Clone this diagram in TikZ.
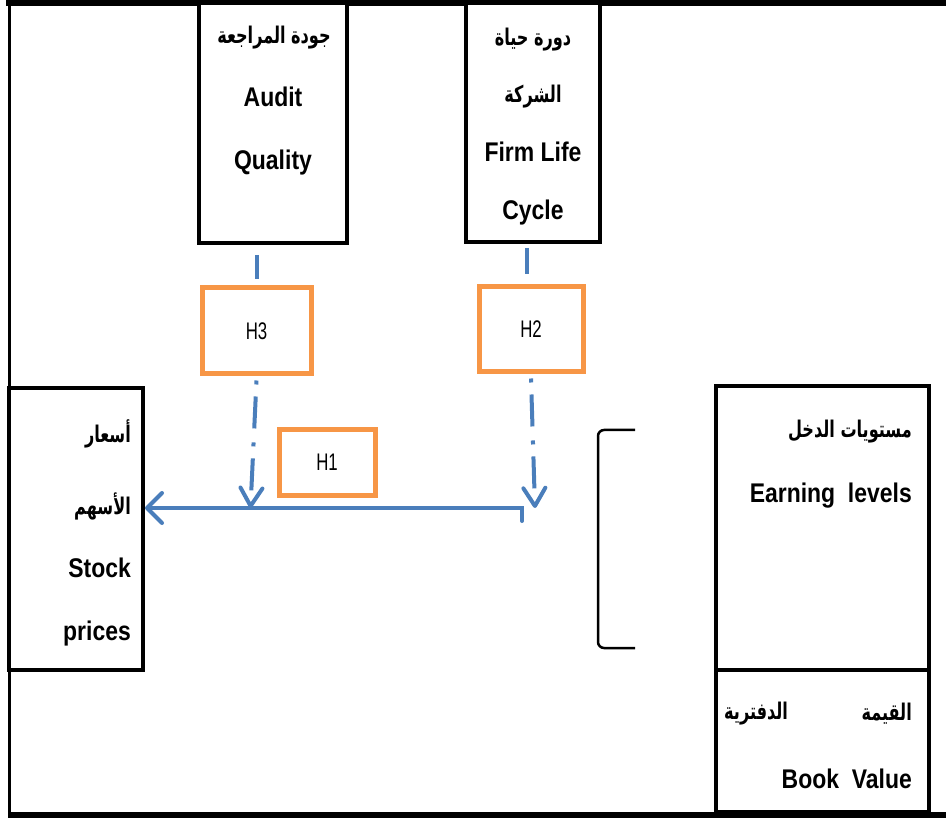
\documentclass[tikz,border=0pt]{standalone}
\usepackage{fontspec}
\usetikzlibrary{arrows.meta}
\TeXXeTstate=1
\newfontfamily\arabicfont[Script=Arabic,FakeStretch=0.7]{DejaVu Sans}
\newfontfamily\latinfont[FakeStretch=0.85]{Liberation Sans}
\newfontfamily\hfont[FakeStretch=0.7]{Liberation Sans}
\definecolor{hblue}{RGB}{74,126,187}
\definecolor{horange}{RGB}{247,150,70}
\tikzset{
  blackbox/.style={draw=black, line width=4pt, inner sep=0pt, fill=white},
  hbox/.style={draw=horange, line width=5pt, inner sep=0pt, fill=white,
    font=\hfont\fontsize{24}{24}\selectfont},
  entxt/.style={font=\latinfont\bfseries\fontsize{27}{27}\selectfont, inner sep=0pt, anchor=base},
  artxt/.style={font=\arabicfont\bfseries\fontsize{23}{23}\selectfont, inner sep=0pt},
  link/.style={draw=hblue, line width=4pt},
  dlink/.style={link, dash pattern=on 4pt off 12pt on 32pt off 14pt,
    -{Straight Barb[length=18pt,width=22pt,round]}},
  mainlink/.style={link, line cap=round, -{Straight Barb[length=15pt,width=30pt,round]}},
}
\begin{document}
\begin{tikzpicture}[x=1pt,y=-1pt]
\useasboundingbox (0,0) rectangle (946,818);
% outer frame
\draw[line width=6pt] (6,3) -- (946,3);
\draw[line width=3pt] (9,0) -- (9,815);
\draw[line width=6pt] (8,815) -- (946,815);

% black boxes
\node[blackbox, minimum width=148pt, minimum height=240pt] (aq) at (273,123) {};
\node[blackbox, minimum width=134pt, minimum height=239pt] (fl) at (533,122.5) {};
\node[blackbox, minimum width=134pt, minimum height=282pt] (sp) at (76,529) {};
\node[blackbox, minimum width=213pt, minimum height=284pt] (el) at (822.5,528) {};
\node[blackbox, minimum width=213pt, minimum height=142pt] (bv) at (822.5,741) {};

% texts
\node[artxt] (aqar) at (274,38) {\beginR جودة المراجعة\endR};
\node[entxt] (aq1) at (273,107) {Audit};
\node[entxt] (aq2) at (273,170) {Quality};

\node[artxt] (flar1) at (533,40) {\beginR دورة حياة\endR};
\node[artxt] (flar2) at (533,97) {\beginR الشركة\endR};
\node[entxt] (fl1) at (533,162) {Firm Life};
\node[entxt] (fl2) at (533,220) {Cycle};

\node[artxt, anchor=east] (spar1) at (131,434) {\beginR أسعار\endR};
\node[artxt, anchor=east] (spar2) at (131,506) {\beginR الأسهم\endR};
\node[entxt, anchor=base east] (sp1) at (131,577) {Stock};
\node[entxt, anchor=base east] (sp2) at (131,640) {prices};

\node[artxt, anchor=east] (elar) at (912,432) {\beginR مستويات الدخل\endR};
\node[entxt, anchor=base east] (el1) at (912,503) {Earning\ \ levels};
\node[artxt, anchor=east] (bvar1) at (912,714) {\beginR القيمة\endR};
\node[artxt, anchor=west] (bvar2) at (724,714) {\beginR الدفترية\endR};
\node[entxt, anchor=base east] (bv1) at (912,788) {Book\ \ Value};

% hypothesis boxes
\node[hbox, minimum width=109pt, minimum height=86pt] (h3) at (256.5,331) {H3};
\node[hbox, minimum width=104pt, minimum height=85pt] (h2) at (531,329.5) {H2};
\node[hbox, minimum width=96pt, minimum height=65pt] (h1) at (327,462.5) {H1};

% main arrow
\coordinate (m1) at (522,508);
\coordinate (tk) at (522,521);
\draw[mainlink] (tk) -- (m1) -- (m1 -| sp.east);

% links from variables to hypotheses
\draw[link, shorten <=10pt, shorten >=6pt] (h3.north |- aq.south) -- (h3.north);
\draw[link, shorten <=4pt, shorten >=10pt] ([xshift=-4pt]h2.north |- fl.south) -- ([xshift=-4pt]h2.north);

\draw[dlink] ([yshift=-4pt]h3.south) -- ([xshift=-6pt]h3.south |- m1);
\draw[dlink] ([yshift=-4pt]h2.south) -- ([xshift=4pt]h2.south |- m1);

% bracket
\draw[line width=2.5pt, rounded corners=6pt] (635,430) -- (598,430) -- (598,648) -- (635,648);
\end{tikzpicture}
\end{document}
